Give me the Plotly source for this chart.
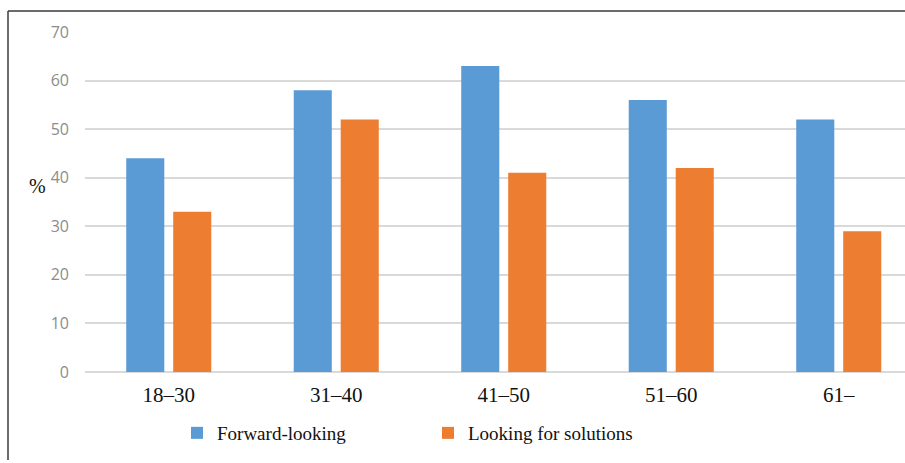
import plotly.graph_objects as go

# Age groups and shares (%) for the two attitude groups
age_groups = ["18–30", "31–40", "41–50", "51–60", "61–"]
forward_looking = [44, 58, 63, 56, 52]
looking_for_solutions = [33, 52, 41, 42, 29]
y_ticks = [0, 10, 20, 30, 40, 50, 60, 70]

W, H = 905, 463
ML, MR, MT, MB = 85, 0, 32, 91
PW, PH = W - ML - MR, H - MT - MB

serif = "Liberation Serif"
sans = "Open Sans"

fig = go.Figure()
fig.add_trace(go.Bar(
    x=age_groups, y=forward_looking, name="Forward-looking",
    marker=dict(color="#5B9BD5", line=dict(width=0)),
))
fig.add_trace(go.Bar(
    x=age_groups, y=looking_for_solutions, name="Looking for solutions",
    marker=dict(color="#ED7D31", line=dict(width=0)),
))

# frame along the top and left edges
def px_to_paper_x(px):
    return (px - ML) / PW

def px_to_paper_y(py):
    return 1 - (py - MT) / PH

frame = dict(color="#3a3a3a", width=1.5)
fig.add_shape(type="line", xref="paper", yref="paper",
              x0=px_to_paper_x(8), x1=px_to_paper_x(W + 5),
              y0=px_to_paper_y(11), y1=px_to_paper_y(11), line=frame)
fig.add_shape(type="line", xref="paper", yref="paper",
              x0=px_to_paper_x(8), x1=px_to_paper_x(8),
              y0=px_to_paper_y(11), y1=px_to_paper_y(460), line=frame)

fig.add_annotation(text="%", xref="paper", yref="paper",
                   x=px_to_paper_x(27), y=px_to_paper_y(186),
                   showarrow=False, font=dict(family=serif, size=20, color="#111"))

fig.update_layout(
    width=W, height=H,
    margin=dict(l=ML, r=MR, t=MT, b=MB),
    paper_bgcolor="white", plot_bgcolor="white",
    font=dict(family=serif),
    barmode="group", bargap=0.439, bargroupgap=0.19,
    xaxis=dict(
        range=[-0.5, -0.5 + PW / 167.5],
        showgrid=False, showline=False, zeroline=False,
        tickfont=dict(family=serif, size=21, color="#111"),
        ticks="outside", ticklen=4, tickcolor="rgba(0,0,0,0)",
    ),
    yaxis=dict(
        range=[0, 70], tickvals=y_ticks,
        showgrid=True, gridcolor="#D9D9D9", gridwidth=1.5,
        zeroline=True, zerolinecolor="#D9D9D9", zerolinewidth=1.5,
        showline=False,
        tickfont=dict(family=sans, size=16, color="#8C8C8C"),
        ticklabelstandoff=15,
    ),
    showlegend=True,
    legend=dict(
        orientation="h", xref="container", yref="container",
        x=177 / W, y=1 - 433 / H, xanchor="left", yanchor="middle",
        font=dict(family=serif, size=19, color="#111"),
        entrywidth=206, entrywidthmode="pixels",
        bgcolor="rgba(0,0,0,0)", borderwidth=0,
        traceorder="normal",
    ),
)

fig.write_html("out.html")
